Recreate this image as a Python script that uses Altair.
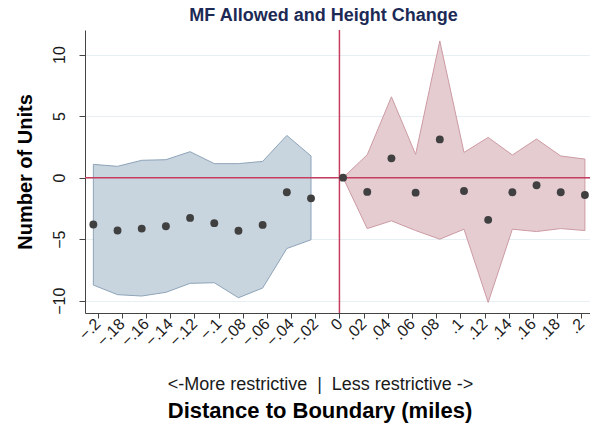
import altair as alt
import pandas as pd

# ---- data ----
left_x = [-0.2035, -0.1835, -0.1635, -0.1435, -0.1235, -0.1035, -0.0835, -0.0635, -0.0435, -0.0235]
left_est = [-3.81, -4.30, -4.14, -3.95, -3.27, -3.70, -4.32, -3.84, -1.19, -1.68]
left_hi = [1.08, 0.92, 1.41, 1.46, 2.11, 1.14, 1.14, 1.32, 3.43, 1.76]
left_lo = [-8.73, -9.51, -9.62, -9.32, -8.59, -8.54, -9.76, -8.97, -5.76, -5.05]

right_x = [0.003, 0.023, 0.043, 0.063, 0.083, 0.103, 0.123, 0.143, 0.163, 0.183, 0.203]
right_est = [0.0, -1.16, 1.57, -1.22, 3.11, -1.08, -3.43, -1.19, -0.62, -1.19, -1.41]
right_hi = [0.0, 1.86, 6.57, 1.89, 11.11, 2.05, 3.27, 1.84, 3.14, 1.76, 1.51]
right_lo = [0.0, -4.14, -3.51, -4.30, -5.00, -4.19, -10.14, -4.19, -4.38, -4.14, -4.30]

x_ticks = [-0.2, -0.18, -0.16, -0.14, -0.12, -0.1, -0.08, -0.06, -0.04, -0.02,
           0.0, 0.02, 0.04, 0.06, 0.08, 0.1, 0.12, 0.14, 0.16, 0.18, 0.2]
y_ticks = [-10, -5, 0, 5, 10]

TITLE = "MF Allowed and Height Change"
Y_TITLE = "Number of Units"
X_SUB = "<-More restrictive\u00a0\u00a0|\u00a0\u00a0Less restrictive ->"
X_TITLE = "Distance to Boundary (miles)"

left = pd.DataFrame({"x": left_x, "est": left_est, "lo": left_lo, "hi": left_hi})
right = pd.DataFrame({"x": right_x, "est": right_est, "lo": right_lo, "hi": right_hi})
pts = pd.concat([left, right], ignore_index=True)
zero = pd.DataFrame({"z": [0.0]})
xt = pd.DataFrame({"t": [X_TITLE]})

FONT = "Liberation Sans"
W, H = 505, 283

xscale = alt.Scale(domain=[-0.2104, 0.2072], nice=False, zero=False)
yscale = alt.Scale(domain=[-11, 12], nice=False, zero=False)

xaxis = alt.Axis(
    values=x_ticks, grid=False, labelOverlap=False, labelSeparation=0,
    labelExpr="replace(format(datum.value, '.2~f'), '0.', '.')",
    labelAngle=315, labelAlign="right", labelBaseline="middle",
    labelFont=FONT, labelFontSize=16, labelColor="#1a1a1a", labelPadding=3,
    tickSize=5, tickColor="#444", domainColor="#444",
    title=X_SUB, titleFont=FONT, titleFontSize=18, titleFontWeight="normal",
    titleColor="#1a1a1a", titleX=235, titleY=71, titleAlign="center",
    titleBaseline="middle", titleAngle=0,
)
yaxis = alt.Axis(
    values=y_ticks, grid=True, gridColor="#e6eff1", gridWidth=1, labelOverlap=False,
    labelAngle=270, labelAlign="center", labelBaseline="bottom",
    labelFont=FONT, labelFontSize=16, labelColor="#1a1a1a", labelPadding=12,
    tickSize=6, tickColor="#444", domainColor="#444",
    title=Y_TITLE, titleFont=FONT, titleFontSize=20, titleFontWeight="bold",
    titleColor="#000", titleX=-60, titleY=141.5, titleAngle=270,
    titleAlign="center", titleBaseline="middle",
)

X = lambda f: alt.X(f, scale=xscale, axis=xaxis)
Y = lambda f: alt.Y(f, scale=yscale, axis=yaxis)

area_l = alt.Chart(left).mark_area(
    fill="#c8d4de", stroke="#8ea4b9", strokeWidth=1, opacity=1
).encode(x=X("x:Q"), y=Y("lo:Q"), y2="hi:Q")
area_r = alt.Chart(right).mark_area(
    fill="#e4ccd1", stroke="#cd9aa3", strokeWidth=1, opacity=1
).encode(x=X("x:Q"), y=Y("lo:Q"), y2="hi:Q")
hline = alt.Chart(zero).mark_rule(color="#c63d60", strokeWidth=1.5).encode(y=Y("z:Q"))
vline = alt.Chart(zero).mark_rule(color="#c63d60", strokeWidth=1.5).encode(x=X("z:Q"))
points = alt.Chart(pts).mark_circle(size=62, color="#404040", opacity=1).encode(
    x=X("x:Q"), y=Y("est:Q")
)
xtitle = alt.Chart(xt).mark_text(
    font=FONT, fontSize=22, fontWeight="bold", color="#000",
    align="center", baseline="middle"
).encode(x=alt.value(235), y=alt.value(H + 98), text="t:N")

chart = alt.layer(area_l, area_r, hline, vline, points, xtitle).properties(
    width=W, height=H,
    title=alt.TitleParams(
        TITLE, font=FONT, fontSize=18, fontWeight="bold", color="#1c2a55",
        anchor="middle", frame="group", dx=-14, offset=4,
    ),
    autosize=alt.AutoSizeParams(type="none"),
    padding={"left": 85, "top": 30, "right": 0, "bottom": 110},
).configure_view(stroke=None).configure_axis(labelOverlap=False)

chart.save("out.html", embed_options={"renderer": "svg", "actions": False})
